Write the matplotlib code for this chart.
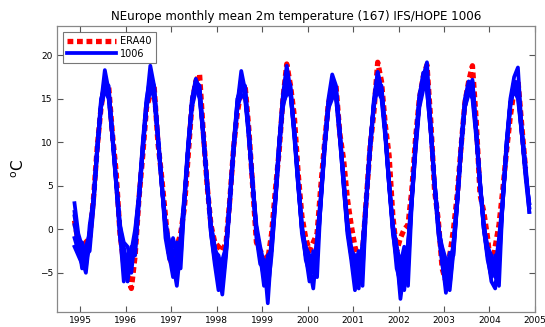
import numpy as np
import matplotlib
matplotlib.use("Agg")
import matplotlib.pyplot as plt

# Monthly values, Nov 1994 onwards
era40 = [1.0, -1.5,
         -2.5, -1.5, -1.0, 3.5, 9.5, 14.0, 16.8, 16.5, 11.0, 6.5, -0.5, -4.0,
         -5.5, -6.8, -3.0, 3.5, 8.5, 14.0, 15.5, 16.5, 10.0, 6.0, 1.5, -3.0,
         -4.5, -2.0, -0.5, 2.5, 8.5, 14.5, 17.0, 17.8, 11.0, 5.0, 0.5, -1.5,
         -2.0, -2.5, -1.5, 3.5, 9.5, 13.5, 16.0, 16.6, 11.5, 5.0, -1.5, -2.5,
         -3.0, -3.5, -0.5, 4.5, 9.0, 15.0, 19.0, 16.5, 13.0, 6.5, 1.5, -1.0,
         -2.5, -1.5, -0.5, 5.0, 10.0, 14.5, 16.0, 16.5, 11.0, 8.0, 3.5, 0.5,
         -2.0, -3.5, -2.5, 3.5, 9.5, 13.5, 19.2, 17.0, 12.0, 8.5, 1.5, -2.5,
         -1.0, 0.0, 0.5, 4.5, 10.5, 15.0, 17.5, 18.9, 12.5, 4.5, 1.0, -4.5,
         -6.0, -3.0, 0.0, 4.0, 9.5, 14.5, 17.0, 18.8, 12.5, 4.0, 2.0, -1.0,
         -5.0, -2.0, 0.5, 4.5, 9.0, 13.0, 16.0, 17.2, 12.0, 7.0]

run1 = [3.0, -0.5,
        -2.0, -4.0, -1.5, 3.0, 9.5, 14.5, 18.3, 16.0, 11.0, 5.5, 0.0, -3.0,
        -6.0, -3.0, -2.0, 3.5, 9.0, 14.0, 16.0, 15.5, 10.5, 5.0, 0.5, -2.0,
        -4.0, -6.5, -2.0, 3.0, 9.5, 15.0, 17.3, 16.0, 11.0, 5.5, 0.0, -3.0,
        -5.0, -7.5, -3.0, 3.0, 9.5, 14.5, 18.2, 16.0, 11.0, 5.0, 0.0, -3.5,
        -5.5, -4.0, -2.0, 3.5, 10.0, 15.5, 18.8, 16.0, 11.5, 5.5, -0.5, -3.0,
        -4.5, -6.8, -2.0, 3.5, 10.0, 15.0, 17.8, 16.5, 11.0, 5.5, 0.5, -2.5,
        -5.0, -4.0, -6.5, 3.0, 9.5, 14.5, 18.0, 16.0, 11.0, 5.0, 0.0, -3.0,
        -8.0, -4.5, -2.0, 3.5, 10.0, 15.5, 17.5, 19.2, 12.0, 5.5, 0.5, -2.5,
        -4.0, -7.0, -2.5, 3.0, 9.5, 14.5, 16.5, 17.0, 11.5, 5.0, 0.0, -3.0,
        -5.0, -4.0, -6.5, 3.5, 10.0, 15.0, 17.5, 18.6, 11.5, 7.0, 2.5]

run2 = [-2.0, -3.0,
        -4.0, -2.0, -0.5, 3.5, 9.0, 14.0, 16.0, 15.5, 10.5, 5.0, -0.5, -6.0,
        -3.0, -2.5, 0.0, 4.0, 9.5, 14.5, 18.8, 16.5, 11.0, 5.5, -1.0, -3.5,
        -1.0, -3.0, -4.5, 3.0, 9.0, 14.0, 16.0, 15.5, 10.5, 5.0, -0.5, -4.0,
        -7.0, -3.5, -2.0, 3.5, 9.5, 15.0, 16.5, 15.5, 10.5, 5.0, -1.0, -4.0,
        -3.5, -8.5, -2.0, 3.5, 10.0, 15.0, 17.0, 15.5, 11.0, 5.0, 0.0, -2.5,
        -4.0, -3.0, -5.5, 3.5, 9.5, 14.0, 16.5, 15.0, 10.5, 5.0, -0.5, -3.5,
        -7.0, -3.5, -2.0, 3.5, 9.5, 14.5, 16.5, 15.5, 11.0, 5.5, 0.0, -4.5,
        -6.0, -3.0, -6.5, 3.0, 9.5, 14.5, 16.5, 16.0, 11.0, 5.0, -0.5, -3.5,
        -7.3, -4.0, -2.0, 3.5, 10.0, 15.0, 17.0, 16.0, 11.0, 5.5, 0.0, -3.0,
        -6.0, -6.8, -2.5, 3.0, 9.5, 14.5, 16.5, 15.5, 11.0, 6.5, 3.0]

run3 = [0.5, -2.0,
        -3.5, -5.0, -1.0, 3.0, 9.0, 14.5, 17.0, 16.5, 11.0, 5.5, 0.0, -2.0,
        -4.5, -4.0, -1.5, 3.5, 9.0, 14.5, 17.0, 16.0, 10.5, 5.0, 0.0, -3.0,
        -5.5, -2.5, -1.5, 3.5, 9.5, 14.5, 16.5, 15.0, 10.5, 5.0, 0.5, -2.0,
        -4.0, -6.5, -2.5, 3.0, 9.0, 14.0, 17.5, 16.0, 11.0, 5.5, -0.5, -3.0,
        -6.5, -3.0, -2.5, 3.0, 9.5, 14.5, 17.5, 16.5, 11.0, 5.5, 0.5, -3.5,
        -5.0, -4.0, -1.5, 3.5, 9.5, 13.9, 15.0, 16.0, 11.0, 5.5, 0.0, -2.5,
        -3.0, -6.0, -3.0, 3.5, 9.0, 14.0, 17.0, 16.5, 11.5, 5.5, 0.5, -2.0,
        -5.0, -7.0, -3.0, 3.0, 9.0, 14.0, 16.0, 17.5, 11.5, 5.5, 0.5, -3.0,
        -5.5, -2.7, -3.0, 3.0, 9.0, 14.0, 15.5, 16.5, 11.0, 5.5, 0.5, -2.5,
        -4.0, -5.5, -2.0, 3.0, 9.0, 14.5, 16.5, 17.0, 11.5, 7.5, 2.5]

run4 = [-1.0, -2.5,
        -1.5, -3.0, -2.5, 2.5, 9.0, 14.0, 16.5, 16.0, 11.0, 5.5, 0.5, -1.5,
        -2.0, -4.0, -1.0, 3.5, 9.5, 14.0, 16.5, 15.0, 10.5, 5.0, 0.5, -1.5,
        -3.0, -1.5, -3.5, 3.5, 9.5, 14.5, 17.0, 15.5, 10.5, 5.5, 0.0, -2.5,
        -3.0, -5.0, -1.5, 3.5, 9.5, 14.5, 17.0, 15.5, 11.0, 5.5, 0.5, -2.0,
        -4.0, -5.5, -1.5, 4.0, 10.0, 15.0, 16.5, 15.5, 10.5, 5.0, 0.0, -2.0,
        -3.0, -5.0, -1.0, 4.0, 10.0, 14.5, 17.0, 15.5, 11.0, 6.0, 1.0, -2.0,
        -4.0, -2.5, -5.0, 3.0, 9.5, 15.0, 18.1, 16.0, 11.0, 5.0, 0.5, -2.0,
        -4.0, -2.0, -4.5, 3.5, 10.0, 15.0, 18.0, 16.5, 11.5, 5.5, 0.0, -2.0,
        -3.5, -6.0, -1.5, 3.5, 9.5, 14.5, 16.0, 15.0, 10.5, 5.0, 0.5, -2.0,
        -3.0, -4.5, -1.0, 3.5, 10.0, 14.5, 16.0, 15.0, 11.0, 6.0, 2.0]

run5 = [2.0, -1.5,
        -4.5, -3.5, -0.5, 3.5, 9.5, 14.5, 16.0, 15.0, 10.5, 5.0, -1.0, -3.5,
        -5.0, -2.0, -3.0, 3.0, 9.0, 14.5, 16.0, 15.5, 10.5, 5.5, 1.0, -1.5,
        -3.5, -5.0, -1.0, 4.0, 10.0, 14.5, 16.5, 16.0, 11.0, 5.5, -0.5, -3.5,
        -6.0, -4.0, -2.5, 3.0, 9.0, 14.0, 15.5, 15.0, 10.5, 5.0, 0.0, -3.0,
        -5.0, -6.5, -1.0, 3.5, 9.5, 14.5, 15.5, 15.5, 11.0, 6.0, 0.5, -3.0,
        -6.0, -2.5, -3.0, 3.0, 9.0, 14.0, 16.0, 16.0, 11.5, 5.5, 0.5, -3.0,
        -5.5, -5.0, -2.0, 4.0, 10.0, 14.5, 16.0, 15.0, 10.5, 5.0, -0.5, -3.5,
        -7.0, -5.5, -2.0, 3.5, 9.5, 14.5, 16.5, 16.0, 11.0, 5.0, 0.0, -4.0,
        -6.5, -5.0, -1.5, 3.5, 9.5, 14.5, 16.5, 15.5, 11.0, 5.0, 0.0, -3.5,
        -5.5, -3.0, -4.0, 3.0, 9.5, 14.0, 17.0, 16.0, 11.0, 6.5, 3.0]

run6 = [1.5, -1.0,
        -3.0, -4.5, 0.5, 3.5, 9.5, 15.0, 16.5, 15.5, 10.5, 5.5, 0.5, -2.5,
        -3.5, -5.0, -0.5, 4.0, 10.0, 15.0, 17.5, 16.5, 11.0, 5.5, 0.0, -2.5,
        -4.5, -4.0, -1.0, 3.5, 9.5, 15.0, 17.0, 16.5, 11.0, 5.0, 0.5, -2.0,
        -4.5, -4.5, -2.0, 4.0, 10.0, 15.0, 16.0, 16.5, 11.5, 5.5, 0.0, -2.5,
        -4.5, -7.0, -3.0, 3.0, 9.0, 14.0, 16.0, 16.0, 11.5, 5.5, 0.0, -2.0,
        -3.5, -4.5, -2.5, 3.0, 9.5, 14.5, 16.5, 15.5, 10.5, 5.0, 0.0, -3.0,
        -4.5, -6.8, -1.5, 3.5, 9.5, 14.5, 17.0, 16.0, 11.0, 5.5, 0.0, -2.5,
        -3.5, -6.0, -1.5, 4.0, 10.0, 15.0, 17.0, 17.5, 11.5, 5.5, 0.5, -2.5,
        -5.0, -6.5, -2.0, 3.0, 9.0, 14.0, 16.0, 17.2, 11.5, 5.5, 0.5, -2.5,
        -4.5, -5.0, -3.0, 3.5, 9.5, 14.5, 17.0, 16.5, 11.5, 7.0, 2.0]

runs = [run1, run2, run3, run4, run5, run6]
start_year = 1994
start_month = 11
year_ticks = list(range(1995, 2006))
y_ticks = [-5, 0, 5, 10, 15, 20]

def month_times(n):
    return [start_year + (start_month - 1 + i + 0.5) / 12.0 for i in range(n)]

fig = plt.figure(figsize=(5.45, 3.27), dpi=100)
ax = fig.add_axes([0.1046, 0.046, 0.877, 0.8754])

t_era = month_times(len(era40))
ax.plot(t_era, era40, color='#ff0000', linewidth=3.8, linestyle=(0, (1.1, 0.7)),
        dash_capstyle='butt', label='ERA40', zorder=2)
for k, r in enumerate(runs):
    ax.plot(month_times(len(r)), r, color='#0000ff', linewidth=2.7,
            label='1006' if k == 0 else None, zorder=3)

ax.set_xlim(1994.49, 2005.0)
ax.set_ylim(-9.5, 23.4)
ax.set_xticks(year_ticks)
ax.set_xticklabels([str(y) for y in year_ticks])
ax.set_yticks(y_ticks)
ax.tick_params(direction='in', length=4, width=0.8, labelsize=6.5, top=True, right=True,
               color='#555555', pad=3)
for s in ax.spines.values():
    s.set_color('#888888')
    s.set_linewidth(0.9)

ax.set_title('NEurope monthly mean 2m temperature (167) IFS/HOPE 1006', fontsize=8.6, pad=4)
ax.set_ylabel(r'$^{\rm o}$C', fontsize=11, labelpad=9)

leg = ax.legend(loc='upper left', fontsize=7, frameon=True, fancybox=False,
                handlelength=5.0, borderpad=0.45, labelspacing=0.3, handletextpad=0.4,
                borderaxespad=0.6)
leg.get_frame().set_edgecolor('#555555')
leg.get_frame().set_linewidth(0.8)

fig.savefig('out.png', dpi=100)
